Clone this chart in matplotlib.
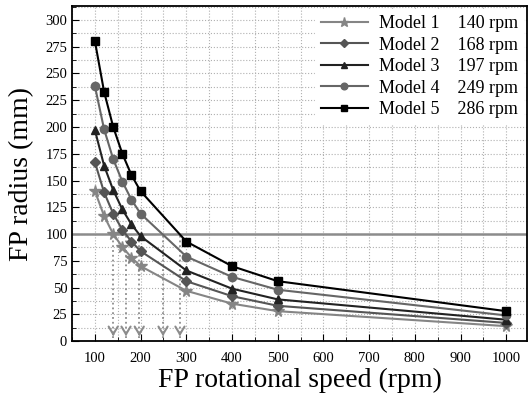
import matplotlib
matplotlib.use('Agg')
import matplotlib.pyplot as plt
from matplotlib.ticker import MultipleLocator

plt.rcParams['font.family'] = ['Liberation Serif', 'DejaVu Serif']

speed = [100, 120, 140, 160, 180, 200, 300, 400, 500, 1000]
models = ['Model 1', 'Model 2', 'Model 3', 'Model 4', 'Model 5']
design_rpm = [140, 168, 197, 249, 286]
radius = {
    'Model 1': [140, 117, 100, 88, 78, 70, 47, 35, 28, 14],
    'Model 2': [167, 139, 119, 104, 93, 84, 56, 42, 33, 17],
    'Model 3': [197, 164, 141, 123, 109, 98, 66, 49, 39, 20],
    'Model 4': [238, 198, 170, 149, 132, 119, 79, 60, 48, 24],
    'Model 5': [280, 233, 200, 175, 155, 140, 93, 70, 56, 28],
}
limit_radius = 100

colors = ['#858585', '#555555', '#222222', '#666666', '#000000']
markers = ['*', 'D', '^', 'o', 's']
msizes = [8.5, 5.5, 6, 6, 6]

fig = plt.figure(figsize=(5.3, 3.99), dpi=100)
ax = fig.add_axes([0.136, 0.145, 0.858, 0.84])

for m, rpm, c, mk, ms in zip(models, design_rpm, colors, markers, msizes):
    ax.plot(speed, radius[m], color=c, marker=mk, markersize=ms, lw=1.5,
            label=f'{m}    {rpm} rpm', zorder=3)

ax.axhline(limit_radius, color='#8c8c8c', lw=1.8, zorder=2)

# dotted drop lines from the 100 mm limit with open arrow heads
ax.vlines(design_rpm, 3, limit_radius, color='#8c8c8c', lw=1.3,
          linestyles=':', zorder=2)
for rpm in design_rpm:
    ax.annotate('', xy=(rpm, 2), xytext=(rpm, 10),
                arrowprops=dict(arrowstyle='->,head_length=0.5,head_width=0.3',
                                color='#8c8c8c', lw=1.5, mutation_scale=11),
                zorder=2)

ax.set_xlim(50, 1045)
ax.set_ylim(0, 313)
ax.xaxis.set_major_locator(MultipleLocator(100))
ax.xaxis.set_minor_locator(MultipleLocator(50))
ax.yaxis.set_major_locator(MultipleLocator(25))
ax.yaxis.set_minor_locator(MultipleLocator(12.5))
ax.grid(which='both', color='#b0b0b0', linestyle=':', lw=0.8, zorder=0)
ax.tick_params(which='major', direction='in', length=5, labelsize=10.5)
ax.tick_params(axis='x', which='major', pad=8)
ax.tick_params(which='minor', direction='in', length=3)
for s in ax.spines.values():
    s.set_linewidth(1.3)

ax.set_xlabel('FP rotational speed (rpm)', fontsize=20, labelpad=2)
ax.set_ylabel('FP radius (mm)', fontsize=20, labelpad=8)

leg = ax.legend(loc='upper right', frameon=True, fontsize=13, handlelength=2.6,
                labelspacing=0.25, borderpad=0.3, handletextpad=0.6,
                framealpha=1, edgecolor='white', fancybox=False,
                borderaxespad=0.2, markerscale=0.8)

fig.savefig('out.png', dpi=100)
